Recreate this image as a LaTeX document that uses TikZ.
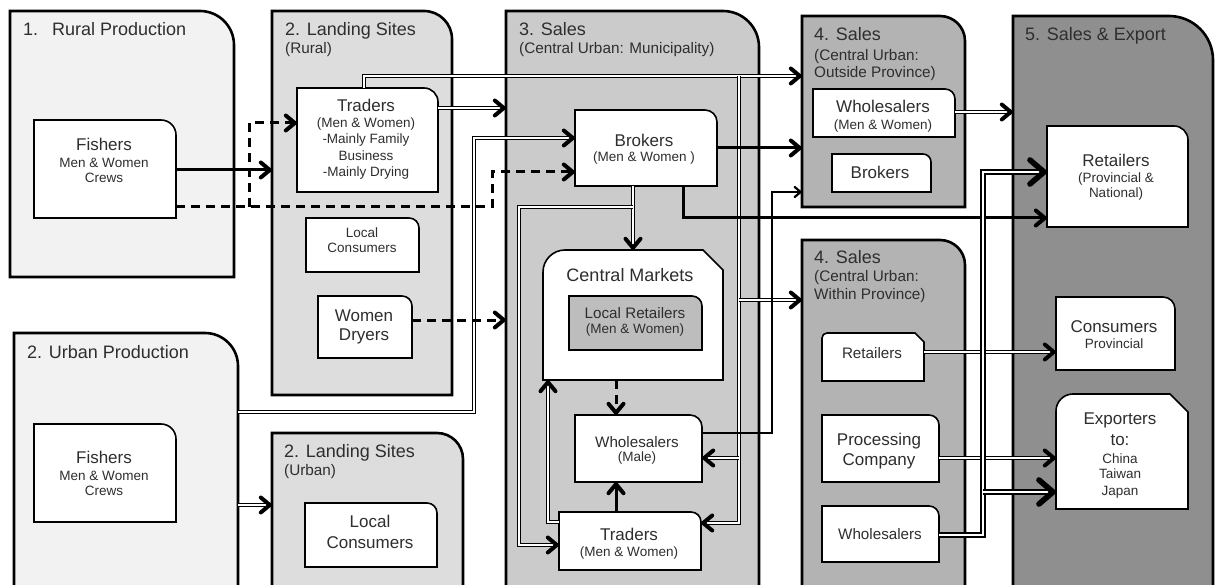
\documentclass[tikz,border=0pt]{standalone}
\usepackage{fontspec}
\setmainfont{Liberation Sans}
\usetikzlibrary{arrows.meta,fit}
\definecolor{c1}{HTML}{F2F2F2}
\definecolor{c2}{HTML}{DDDDDD}
\definecolor{c3}{HTML}{CBCBCB}
\definecolor{c4}{HTML}{B3B3B3}
\definecolor{c5}{HTML}{8F8F8F}
\definecolor{c6}{HTML}{BDBDBD}
\newcount\tlc
\newcommand\tl[4]{\global\advance\tlc by 1\relax\node[anchor=base,#3] (t\the\tlc) at (#1,#2) {#4};}
\newcommand\tlw[4]{\global\advance\tlc by 1\relax\node[anchor=base west,#3] (t\the\tlc) at (#1,#2) {#4};}
% top-right rounded box: name, x1, y1, x2, y2, radius, style
\newcommand\trbox[7]{%
  \draw[#7] (#2,#5) -- (#2,#3) -- ({#4-#6},#3) arc[start angle=-90,end angle=0,radius=#6] -- (#4,#5) -- cycle;
  \path (#2,#3) coordinate (#1-a) (#4,#5) coordinate (#1-b);
  \node[fit=(#1-a)(#1-b), inner sep=0pt] (#1) {};}
% top-left rounded, top-right cut box: name, x1, y1, x2, y2, radius, cut, style
\newcommand\chbox[8]{%
  \draw[#8] (#2,#5) -- (#2,{#3+#6}) arc[start angle=180,end angle=270,radius=#6] -- ({#4-#7},#3) -- (#4,{#3+#7}) -- (#4,#5) -- cycle;
  \path (#2,#3) coordinate (#1-a) (#4,#5) coordinate (#1-b);
  \node[fit=(#1-a)(#1-b), inner sep=0pt] (#1) {};}
\begin{document}
\begin{tikzpicture}[x=1pt,y=-1pt,
  panel/.style={draw=black, line width=2.6pt},
  box/.style={draw=black, fill=white, line width=1.6pt},
  ttl/.style={font=\fontsize{18}{20}\selectfont, text=black!82, inner sep=0pt},
  sub/.style={font=\fontsize{15.3}{18}\selectfont, text=black!82, inner sep=0pt},
  big/.style={font=\fontsize{17}{20}\selectfont, text=black!82, inner sep=0pt},
  mid/.style={font=\fontsize{15.2}{18}\selectfont, text=black!82, inner sep=0pt},
  sml/.style={font=\fontsize{13.5}{16}\selectfont, text=black!82, inner sep=0pt},
  tip/.style={-{Straight Barb[length=9pt,width=15pt,line width=4pt,round]}},
  bigtip/.style={-{Straight Barb[length=14pt,width=24pt,line width=5.6pt,round]}},
  smalltip/.style={-{Straight Barb[length=6pt,width=10pt,line width=2.2pt,round]}},
  thk/.style={line width=3pt},
  thn/.style={line width=1.2pt},
  dbl/.style={double=white, double distance=2.4pt, line width=1.1pt},
  hvy/.style={double=white, double distance=1.4pt, line width=2.3pt},
  dsh/.style={line width=3pt, dash pattern=on 9pt off 6pt}]
\useasboundingbox (0,0) rectangle (1215,585);
\clip (0,0) rectangle (1215,585);
\fill[white] (0,0) rectangle (1215,585);
% panels
\trbox{P1}{10}{11}{234}{277}{34}{panel, fill=c1}
\trbox{UP}{14}{333}{238}{620}{33}{panel, fill=c1}
\trbox{LR}{272}{11}{452}{395}{28}{panel, fill=c2}
\trbox{LU}{272}{433}{463}{620}{26}{panel, fill=c2}
\trbox{S3}{506}{11}{759}{620}{36}{panel, fill=c3}
\trbox{S4o}{802}{16}{965}{207}{25}{panel, fill=c4}
\trbox{S4w}{802}{240}{965}{620}{25}{panel, fill=c4}
\trbox{S5}{1013}{16}{1213}{620}{44}{panel, fill=c5}
% boxes
\trbox{fr}{34}{120}{176}{218}{15}{box}
\trbox{trr}{297}{88}{438}{192}{14}{box}
\trbox{lcr}{306}{218}{419}{272}{10}{box}
\trbox{wd}{318}{296}{412}{358}{10}{box}
\trbox{fu}{34}{424}{176}{522}{15}{box}
\trbox{lcu}{305}{503}{437}{567}{10}{box}
\trbox{brk}{575}{110}{717}{186}{12}{box}
\chbox{cm}{543}{250}{723}{380}{22}{20}{box}
\trbox{lret}{569}{296}{702}{350}{10}{box, fill=c6}
\trbox{whm}{575}{415}{702}{482}{12}{box}
\trbox{trs}{559}{512}{701}{570}{10}{box}
\trbox{who}{813}{89}{955}{137}{10}{box}
\trbox{bro}{832}{154}{931}{192}{8}{box}
\chbox{rwi}{822}{333}{924}{381}{5}{9}{box}
\trbox{pc}{822}{415}{939}{482}{10}{box}
\trbox{wwi}{822}{506}{939}{562}{10}{box}
\trbox{ret}{1047}{126}{1188}{227}{14}{box}
\trbox{con}{1056}{297}{1175}{370}{12}{box}
\chbox{exp}{1056}{394}{1188}{509}{17}{18}{box}
% panel titles
\tlw{23}{36}{ttl}{1.\hspace{14pt}Rural Production}
\tlw{285}{36}{ttl}{2. Landing Sites}
\tlw{285}{54}{sub}{(Rural)}
\tlw{519}{36}{ttl}{3. Sales}
\tlw{519}{54}{sub}{(Central Urban: Municipality)}
\tlw{814}{41}{ttl}{4. Sales}
\tlw{814}{61}{sub}{(Central Urban:}
\tlw{814}{78}{sub}{Outside Province)}
\tlw{1025}{41}{ttl}{5. Sales \& Export}
\tlw{814}{264}{ttl}{4. Sales}
\tlw{814}{282}{sub}{(Central Urban:}
\tlw{814}{300}{sub}{Within Province)}
\tlw{27}{358}{ttl}{2. Urban Production}
\tlw{284}{457}{ttl}{2. Landing Sites}
\tlw{284}{475}{sub}{(Urban)}
% box texts
\tl{104}{151}{big}{Fishers}
\tl{104}{168}{sml}{Men \& Women}
\tl{104}{183}{sml}{Crews}
\tl{366}{112}{big}{Traders}
\tl{366}{128}{sml}{(Men \& Women)}
\tl{366}{144}{sml}{-Mainly Family}
\tl{366}{161}{sml}{Business}
\tl{366}{177}{sml}{-Mainly Drying}
\tl{362}{238}{sml}{Local}
\tl{362}{253}{sml}{Consumers}
\tl{364}{321}{big}{Women}
\tl{364}{340}{big}{Dryers}
\tl{104}{463}{big}{Fishers}
\tl{104}{480}{sml}{Men \& Women}
\tl{104}{495}{sml}{Crews}
\tl{370}{527}{big}{Local}
\tl{370}{548}{big}{Consumers}
\tl{644}{147}{big}{Brokers}
\tl{644}{162}{sml}{(Men \& Women )}
\tl{630}{282}{ttl}{Central Markets}
\tl{635}{318}{mid}{Local Retailers}
\tl{635}{333}{sml}{(Men \& Women)}
\tl{637}{447}{mid}{Wholesalers}
\tl{637}{461}{sml}{(Male)}
\tl{629}{540}{big}{Traders}
\tl{629}{556}{sml}{(Men \& Women)}
\tl{883}{113}{big}{Wholesalers}
\tl{883}{130}{sml}{(Men \& Women)}
\tl{880}{179}{big}{Brokers}
\tl{1116}{167}{big}{Retailers}
\tl{1116}{183}{sml}{(Provincial \&}
\tl{1116}{198}{sml}{National)}
\tl{872}{358}{mid}{Retailers}
\tl{879}{445}{big}{Processing}
\tl{879}{465}{big}{Company}
\tl{880}{539}{mid}{Wholesalers}
\tl{1114}{332}{big}{Consumers}
\tl{1114}{348}{sml}{Provincial}
\tl{1120}{424}{big}{Exporters}
\tl{1120}{445}{big}{to:}
\tl{1120}{463}{sml}{China}
\tl{1120}{478}{sml}{Taiwan}
\tl{1120}{495}{sml}{Japan}
% connectors
\coordinate (dj) at (249,207);
\coordinate (vj) at (739,76);
\coordinate (bj) at (633,207);
\coordinate (hj) at (983,492);
\draw[thk, tip] (fr.east |- 0,170) -- (LR.west |- 0,170);
\draw[dsh, tip] (fr.east |- 0,207) -| (492,172) -- (brk.west |- 0,172);
\draw[dsh, tip] (dj) |- (trr.west |- 0,123);
\draw[dbl, tip] (trr.east |- 0,108) -- (S3.west |- 0,108);
\draw[dbl, tip] (trr.north -| 364,0) |- (S4o.west |- 0,76);
\draw[dbl, tip] (vj) |- (trs.east |- 0,523);
\draw[dbl, tip] (vj |- 0,458) -- (whm.east |- 0,458);
\draw[dbl, tip] (vj |- 0,300) -- (S4w.west |- 0,300);
\draw[dbl, tip] (UP.east |- 0,412) -| (474,138) -- (brk.west |- 0,138);
\draw[dbl, tip] (UP.east |- 0,505) -- (LU.west |- 0,505);
\draw[dsh, tip] (wd.east |- 0,320) -- (S3.west |- 0,320);
\draw[thk, tip] (brk.east |- 0,148) -- (S4o.west |- 0,148);
\draw[thk, tip] (brk.south -| 683,0) |- (ret.west |- 0,218);
\draw[dbl, tip] (brk.south -| bj) -- (cm.north -| bj);
\draw[dbl, tip] (bj) -| (519,545) -- (trs.west |- 0,545);
\draw[dbl, tip] (trs.west |- 0,522) -| (cm.south -| 548,0);
\draw[thk, tip] (trs.north -| 616,0) -- (whm.south -| 616,0);
\draw[dsh, tip] (cm.south -| 616,0) -- (whm.north -| 616,0);
\draw[thn, smalltip] (whm.east |- 0,433) -| (772,192) -- (S4o.west |- 0,192);
\draw[dbl, tip] (who.east |- 0,112) -- (S5.west |- 0,112);
\draw[dbl, tip] (rwi.east |- 0,352) -- (con.west |- 0,352);
\draw[dbl, tip] (pc.east |- 0,458) -- (exp.west |- 0,458);
\draw[hvy, bigtip] (wwi.east |- 0,535) -| (983,172) -- (ret.west |- 0,172);
\draw[hvy, bigtip] (hj) -- (exp.west |- hj);
\end{tikzpicture}
\end{document}
